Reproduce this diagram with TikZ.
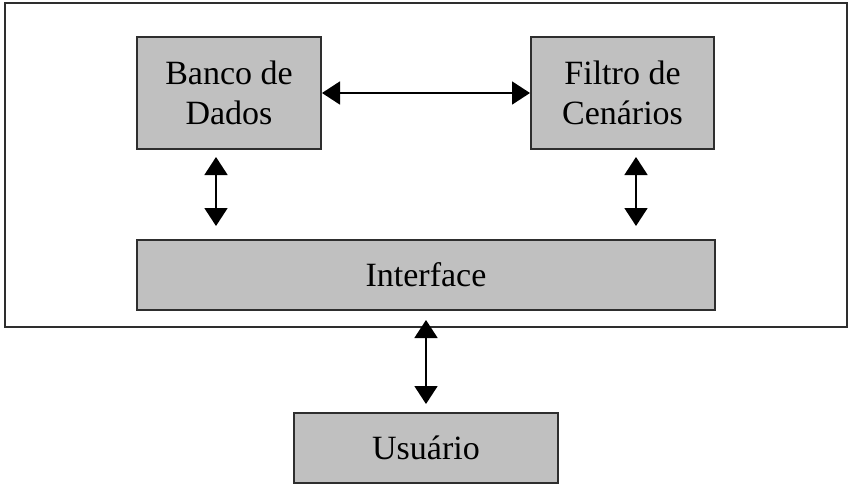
\documentclass[tikz,border=0pt]{standalone}
\usepackage{fontspec}
\setmainfont{Liberation Serif}
\usetikzlibrary{arrows.meta}
\definecolor{boxfill}{HTML}{C0C0C0}
\definecolor{boxline}{HTML}{2E2E2E}
\begin{document}
\begin{tikzpicture}[x=1pt,y=-1pt,
  blk/.style={draw=boxline,line width=2pt,fill=boxfill,inner sep=0pt,align=center,
    font=\fontsize{34}{40}\selectfont,text=black},
  dbl/.style={line width=1.8pt,draw=black,{Triangle[width=23pt,length=18pt]}-{Triangle[width=23pt,length=18pt]}}]
\useasboundingbox (0,0) rectangle (856,485);
\draw[line width=2pt,draw=boxline] (5,3) rectangle (847,327);
\node[blk,minimum width=184pt,minimum height=112pt] (banco) at (229,93) {Banco de\\Dados};
\node[blk,minimum width=183pt,minimum height=112pt] (filtro) at (622.5,93) {Filtro de\\Cenários};
\node[blk,minimum width=578pt,minimum height=70pt] (iface) at (426,275) {Interface};
\node[blk,minimum width=264pt,minimum height=70pt] (user) at (426,448) {Usuário};
\coordinate (a1) at (216,157);
\coordinate (a2) at (216,226);
\coordinate (b1) at (636,157);
\coordinate (b2) at (636,226);
\coordinate (c1) at (426,320);
\coordinate (c2) at (426,404);
\draw[dbl] (banco.east) -- (filtro.west);
\draw[dbl] (a1) -- (a2);
\draw[dbl] (b1) -- (b2);
\draw[dbl] (c1) -- (c2);
\end{tikzpicture}
\end{document}
